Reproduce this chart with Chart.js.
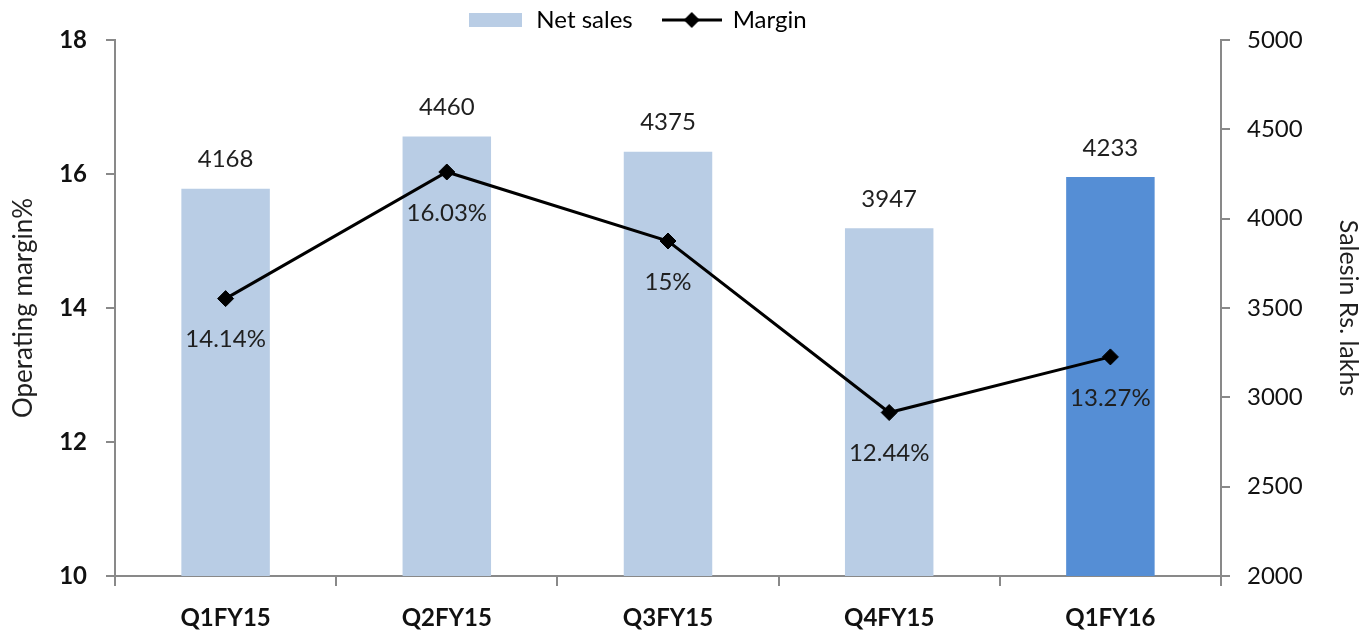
<!DOCTYPE html>
<html>
<head>
<meta charset="utf-8">
<script src="https://cdn.jsdelivr.net/npm/chart.js@4/dist/chart.umd.min.js"></script>
<style>
  html, body { margin: 0; padding: 0; background: #fff; }
  #wrap { width: 1361px; height: 637px; }
</style>
</head>
<body>
<div id="wrap"><canvas id="chart" width="1361" height="637"></canvas></div>
<script>
// Data
const quarters = ['Q1FY15', 'Q2FY15', 'Q3FY15', 'Q4FY15', 'Q1FY16'];
const netSales = [4168, 4460, 4375, 3947, 4233];
const margin = [14.14, 16.03, 15, 12.44, 13.27];
const marginTicks = [10, 12, 14, 16, 18];
const salesTicks = [2000, 2500, 3000, 3500, 4000, 4500, 5000];

const LIGHT = '#b9cde5';
const DARK = '#558ed5';
const AXIS = '#898989';
const FONT = 'Lato';

// Legend symbols drawn on small canvases
function makeBoxSymbol() {
  const c = document.createElement('canvas');
  c.width = 53; c.height = 14;
  const g = c.getContext('2d');
  g.fillStyle = LIGHT;
  g.fillRect(0, 0, 53, 14);
  return c;
}

function makeLineSymbol() {
  const c = document.createElement('canvas');
  c.width = 60; c.height = 18;
  const g = c.getContext('2d');
  g.strokeStyle = '#000';
  g.lineWidth = 3;
  g.beginPath();
  g.moveTo(0, 9); g.lineTo(60, 9);
  g.stroke();
  g.fillStyle = '#000';
  g.beginPath();
  g.moveTo(30, 1); g.lineTo(38, 9); g.lineTo(30, 17); g.lineTo(22, 9);
  g.closePath();
  g.fill();
  return c;
}

const boxSymbol = makeBoxSymbol();
const lineSymbol = makeLineSymbol();

// Value labels above bars and below points
const valueLabels = {
  id: 'valueLabels',
  afterDatasetsDraw(chart) {
    const ctx = chart.ctx;
    ctx.save();
    ctx.font = '24px ' + FONT;
    ctx.fillStyle = '#1f1f1f';
    ctx.textAlign = 'center';
    ctx.textBaseline = 'middle';
    chart.getDatasetMeta(0).data.forEach((bar, i) => {
      ctx.fillText(String(netSales[i]), bar.x, bar.y - 29);
    });
    chart.getDatasetMeta(1).data.forEach((pt, i) => {
      ctx.fillText(margin[i] + '%', pt.x, pt.y + 41);
    });
    ctx.restore();
  }
};

// Keep the legend strip at a fixed height and nudge it into place
const legendFix = {
  id: 'legendFix',
  afterInit(chart) {
    const legend = chart.legend;
    const origFit = legend.fit;
    legend.fit = function () {
      origFit.call(this);
      this.height = 40;
    };
  },
  afterLayout(chart) {
    const legend = chart.legend;
    legend.top -= 22;
    legend.left -= 44;
    legend.right -= 44;
  }
};

const ctx = document.getElementById('chart').getContext('2d');
new Chart(ctx, {
  type: 'bar',
  data: {
    labels: quarters,
    datasets: [
      {
        type: 'bar',
        label: 'Net sales',
        data: netSales,
        yAxisID: 'ySales',
        backgroundColor: netSales.map((v, i) => i === netSales.length - 1 ? DARK : LIGHT),
        borderWidth: 0,
        categoryPercentage: 1,
        barPercentage: 0.4,
        order: 1
      },
      {
        type: 'line',
        label: 'Margin',
        data: margin,
        yAxisID: 'yMargin',
        borderColor: '#000',
        backgroundColor: '#000',
        borderWidth: 3,
        pointStyle: 'rectRot',
        pointRadius: 8,
        pointBorderWidth: 1,
        tension: 0,
        order: 0
      }
    ]
  },
  options: {
    responsive: false,
    animation: false,
    layout: { padding: 0 },
    plugins: {
      tooltip: { enabled: false },
      legend: {
        position: 'top',
        labels: {
          usePointStyle: true,
          pointStyleWidth: 58,
          padding: 30,
          color: '#1f1f1f',
          font: { family: FONT, size: 24 },
          generateLabels: () => [
            { text: 'Net sales', pointStyle: boxSymbol, fillStyle: LIGHT, strokeStyle: LIGHT, lineWidth: 0, datasetIndex: 0, hidden: false },
            { text: 'Margin', pointStyle: lineSymbol, fillStyle: '#000', strokeStyle: '#000', lineWidth: 0, datasetIndex: 1, hidden: false }
          ]
        }
      }
    },
    scales: {
      x: {
        offset: true,
        grid: { offset: true, drawOnChartArea: false, drawTicks: true, tickLength: 10, color: AXIS, lineWidth: 2 },
        border: { color: AXIS, width: 2 },
        ticks: { color: '#111', font: { family: FONT, size: 24, weight: 'bold' }, padding: 18, maxRotation: 0 },
        afterFit: scale => { scale.height = 61; }
      },
      yMargin: {
        position: 'left',
        min: 10,
        max: 18,
        afterBuildTicks: scale => { scale.ticks = marginTicks.map(v => ({ value: v })); },
        grid: { drawOnChartArea: false, drawTicks: true, tickLength: 9, color: AXIS, lineWidth: 2 },
        border: { color: AXIS, width: 2 },
        ticks: { color: '#111', font: { family: FONT, size: 24, weight: 'bold' }, padding: 19, callback: v => String(v) },
        title: {
          display: true,
          text: 'Operating margin%',
          color: '#1f1f1f',
          font: { family: FONT, size: 26, lineHeight: 1 },
          padding: { top: 11, bottom: 0 }
        },
        afterFit: scale => { scale.width = 115; }
      },
      ySales: {
        position: 'right',
        min: 2000,
        max: 5000,
        afterBuildTicks: scale => { scale.ticks = salesTicks.map(v => ({ value: v })); },
        grid: { drawOnChartArea: false, drawTicks: true, tickLength: 9, color: AXIS, lineWidth: 2 },
        border: { color: AXIS, width: 2 },
        ticks: { color: '#111', font: { family: FONT, size: 24 }, padding: 17, callback: v => String(v) },
        title: {
          display: true,
          text: 'Salesin Rs. lakhs',
          color: '#1f1f1f',
          font: { family: FONT, size: 25, lineHeight: 1 },
          padding: { top: 0, bottom: 0 }
        },
        afterFit: scale => { scale.width = 140; }
      }
    }
  },
  plugins: [valueLabels, legendFix]
});
</script>
</body>
</html>
